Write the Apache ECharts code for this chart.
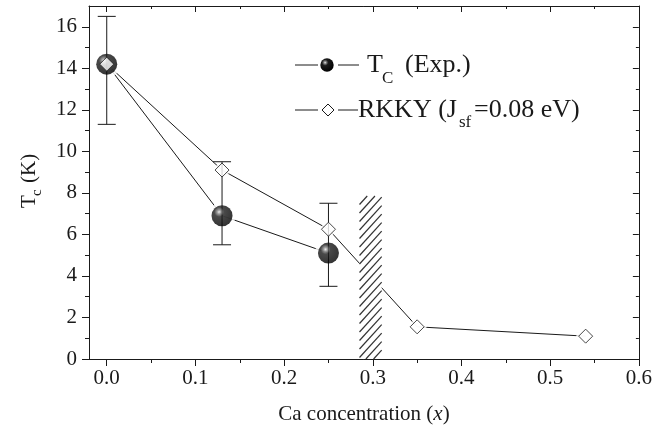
<!DOCTYPE html>
<html>
<head>
<meta charset="utf-8">
<script src="https://cdn.jsdelivr.net/npm/echarts@6/dist/echarts.min.js"></script>
<style>
html, body { margin: 0; padding: 0; background: #fff; }
#chart { width: 655px; height: 432px; }
</style>
</head>
<body>
<div id="chart"></div>
<script>
// experimental Tc with error bars
var xExp = [0, 0.13, 0.25];
var tcExp = [14.2, 6.9, 5.1];
var errLow = [11.3, 5.5, 3.5];
var errHigh = [16.5, 9.5, 7.5];
// RKKY estimate
var xRkky = [0, 0.13, 0.25, 0.35, 0.54];
var tcRkky = [14.2, 9.1, 6.25, 1.55, 1.1];
// hatched band (x from, x to, top)
var hatchX = [0.285, 0.31];
var hatchTop = 7.85;
// ticks
var xMajor = [0, 0.1, 0.2, 0.3, 0.4, 0.5, 0.6];
var xMinor = [0.05, 0.15, 0.25, 0.35, 0.45, 0.55];
var yMajor = [0, 2, 4, 6, 8, 10, 12, 14, 16];
var yMinor = [1, 3, 5, 7, 9, 11, 13, 15];

var FONT = '"Liberation Serif", "Times New Roman", serif';
var INK = '#1a1a1a';

var chart = echarts.init(document.getElementById('chart'));

function pairs(xs, ys) {
    var out = [];
    for (var i = 0; i < xs.length; i++) out.push([xs[i], ys[i]]);
    return out;
}

function tickAxis(pos, min, max, ticks, len, inside, withLine) {
    return {
        type: 'value',
        position: pos,
        min: min,
        max: max,
        axisLine: { show: withLine, onZero: false, lineStyle: { color: INK, width: 1 } },
        axisTick: { show: true, customValues: ticks, length: len, inside: inside, lineStyle: { color: INK, width: 1 } },
        axisLabel: { show: false },
        splitLine: { show: false }
    };
}

var xBottom = tickAxis('bottom', -0.02, 0.6, xMajor, 7, false, true);
xBottom.axisLabel = {
    show: true,
    customValues: xMajor,
    formatter: function (v) { return v.toFixed(1); },
    fontFamily: FONT,
    fontSize: 21,
    color: INK,
    margin: 9
};
xBottom.name = '{n|Ca concentration (}{i|x}{n|)}';
xBottom.nameLocation = 'middle';
xBottom.nameGap = 45;
xBottom.nameTextStyle = {
    rich: {
        n: { fontFamily: FONT, fontSize: 21, color: INK },
        i: { fontFamily: FONT, fontSize: 21, fontStyle: 'italic', color: INK }
    }
};

var yLeft = tickAxis('left', 0, 17, yMajor, 7, false, true);
yLeft.axisLabel = {
    show: true,
    customValues: yMajor,
    fontFamily: FONT,
    fontSize: 21,
    color: INK,
    margin: 12
};

var hatchSeries = {
    type: 'custom',
    z: 3,
    encode: { x: [0, 1], y: 2 },
    data: [[hatchX[0], hatchX[1], hatchTop]],
    renderItem: function (params, api) {
        var a = api.coord([api.value(0), api.value(2)]);
        var b = api.coord([api.value(1), 0]);
        var x0 = a[0], y0 = a[1], x1 = b[0], y1 = b[1];
        var kids = [{
            type: 'rect',
            shape: { x: x0, y: y0, width: x1 - x0, height: y1 - y0 },
            style: { fill: '#fff' }
        }];
        var s = 1.1, step = 8.5;
        for (var c = y0 + s * x0; c <= y1 + s * x1; c += step) {
            var xa = Math.max(x0, (c - y1) / s);
            var xb = Math.min(x1, (c - y0) / s);
            if (xb - xa < 0.5) continue;
            kids.push({
                type: 'line',
                shape: { x1: xa, y1: c - s * xa, x2: xb, y2: c - s * xb },
                style: { stroke: '#333', lineWidth: 1.2 }
            });
        }
        return { type: 'group', children: kids };
    }
};

var errSeries = {
    type: 'custom',
    z: 5,
    encode: { x: 0, y: [1, 2] },
    data: xExp.map(function (x, i) { return [x, errLow[i], errHigh[i]]; }),
    renderItem: function (params, api) {
        var hi = api.coord([api.value(0), api.value(2)]);
        var lo = api.coord([api.value(0), api.value(1)]);
        var cap = 9;
        var st = { stroke: INK, lineWidth: 1 };
        return {
            type: 'group',
            children: [
                { type: 'line', shape: { x1: hi[0], y1: hi[1], x2: lo[0], y2: lo[1] }, style: st },
                { type: 'line', shape: { x1: hi[0] - cap, y1: hi[1], x2: hi[0] + cap, y2: hi[1] }, style: st },
                { type: 'line', shape: { x1: lo[0] - cap, y1: lo[1], x2: lo[0] + cap, y2: lo[1] }, style: st }
            ]
        };
    }
};

// dark shaded ball with a small highlight
var sphereStops = [
    { offset: 0, color: '#eeeeee' },
    { offset: 0.12, color: '#8a8a8a' },
    { offset: 0.32, color: '#1c1c1c' },
    { offset: 1, color: '#000' }
];
var sphere = { type: 'radial', x: 0.36, y: 0.32, r: 0.72, colorStops: sphereStops };

function txt(x, y, s, size) {
    return { type: 'text', x: x, y: y, style: { text: s, font: size + 'px ' + FONT, fill: INK, verticalAlign: 'middle' } };
}
function seg(x1, y1, x2, y2) {
    return { type: 'line', shape: { x1: x1, y1: y1, x2: x2, y2: y2 }, style: { stroke: INK, lineWidth: 1 } };
}

var option = {
    animation: false,
    backgroundColor: '#fff',
    grid: { left: 89, right: 14, top: 6, bottom: 73 },
    xAxis: [
        xBottom,
        tickAxis('bottom', -0.02, 0.6, xMinor, 4, false, false),
        tickAxis('top', -0.02, 0.6, xMajor, 6, true, true),
        tickAxis('top', -0.02, 0.6, xMinor, 3, true, false)
    ],
    yAxis: [
        yLeft,
        tickAxis('left', 0, 17, yMinor, 4, false, false),
        tickAxis('right', 0, 17, yMajor, 6, true, true),
        tickAxis('right', 0, 17, yMinor, 3, true, false)
    ],
    series: [
        {
            type: 'line', z: 2, symbol: 'none',
            data: pairs(xRkky, tcRkky),
            lineStyle: { color: INK, width: 1 }
        },
        {
            type: 'line', z: 2, symbol: 'none',
            data: pairs(xExp, tcExp),
            lineStyle: { color: INK, width: 1 }
        },
        hatchSeries,
        {
            type: 'scatter', z: 4, symbol: 'diamond', symbolSize: 20,
            data: pairs(xRkky, tcRkky),
            itemStyle: { color: '#fff' }
        },
        {
            type: 'scatter', z: 4, symbol: 'circle', symbolSize: 27,
            data: pairs(xExp, tcExp),
            itemStyle: { color: '#fff' }
        },
        errSeries,
        {
            type: 'scatter', z: 6, symbol: 'circle', symbolSize: 21,
            data: pairs(xExp, tcExp),
            itemStyle: { color: sphere }
        },
        {
            type: 'scatter', z: 7, symbol: 'diamond', symbolSize: 14,
            data: pairs(xRkky, tcRkky),
            itemStyle: { color: '#fff', borderColor: INK, borderWidth: 1 }
        }
    ],
    graphic: [
        // y axis title  T_c (K)
        {
            type: 'group', x: 29, y: 208, rotation: Math.PI / 2,
            children: [
                txt(0, 0, 'T', 21),
                txt(12, 8, 'c', 15),
                txt(25, 0, '(K)', 21)
            ]
        },
        // legend row 1
        seg(295, 65, 318, 65),
        seg(338, 65, 359, 65),
        {
            type: 'circle', shape: { cx: 327, cy: 65, r: 6.7 },
            style: { fill: new echarts.graphic.RadialGradient(0.36, 0.32, 0.72, sphereStops) }
        },
        txt(367, 65, 'T', 26),
        txt(382, 79, 'C', 17),
        txt(405, 65, '(Exp.)', 26),
        // legend row 2
        seg(295, 110, 318, 110),
        seg(338, 110, 358, 110),
        {
            type: 'polygon', shape: { points: [[328, 104], [334, 110], [328, 116], [322, 110]] },
            style: { fill: '#fff', stroke: INK, lineWidth: 1 }
        },
        txt(358, 110, 'RKKY (J', 26),
        txt(459, 123, 'sf', 17),
        txt(474, 110, '=0.08 eV)', 26)
    ]
};

chart.setOption(option);
</script>
</body>
</html>
